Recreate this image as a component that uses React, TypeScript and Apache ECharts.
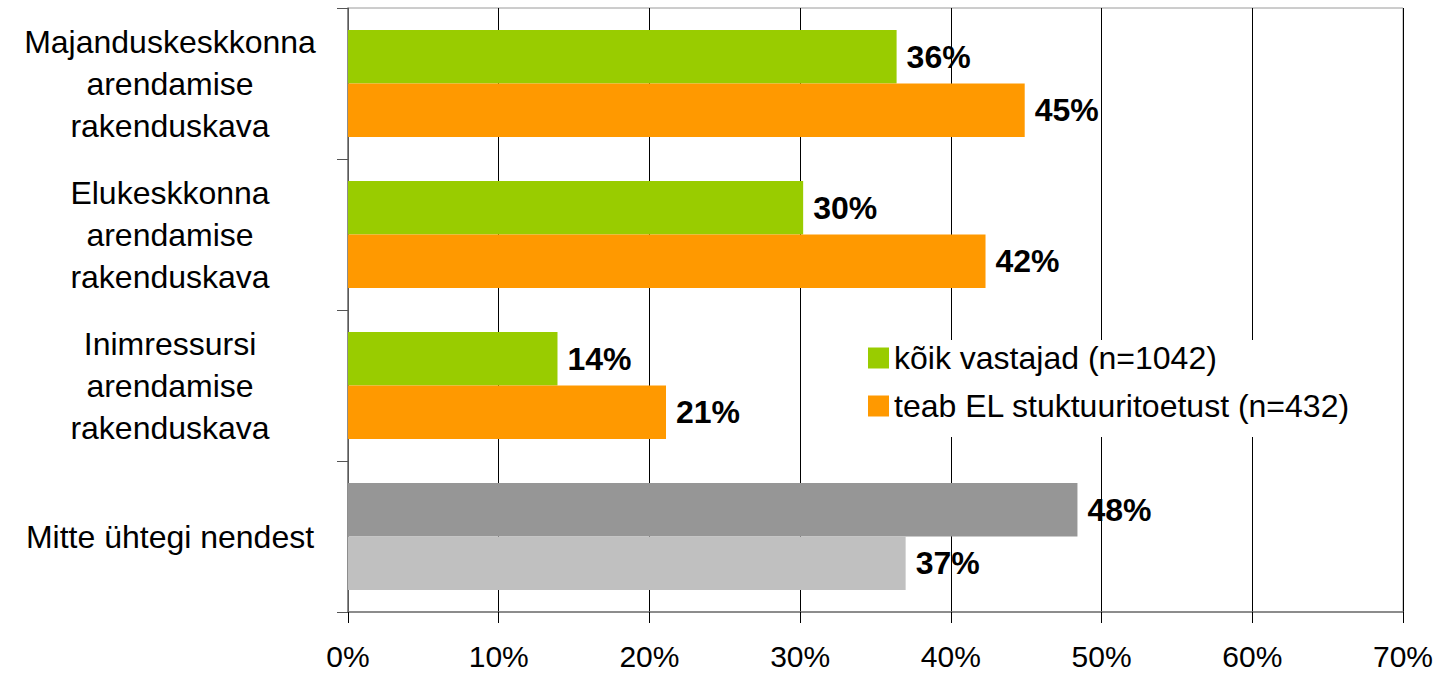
import React, { useEffect, useRef } from "react";
import * as echarts from "echarts";

const categories = [
  "Majanduskeskkonna\narendamise\nrakenduskava",
  "Elukeskkonna\narendamise\nrakenduskava",
  "Inimressursi\narendamise\nrakenduskava",
  "Mitte ühtegi nendest",
];
const seriesNames = ["kõik vastajad (n=1042)", "teab EL stuktuuritoetust (n=432)"];
const allRespondents = [36.4, 30.2, 13.9, 48.4];
const awareRespondents = [44.9, 42.3, 21.1, 37.0];
const xTicks = [0, 10, 20, 30, 40, 50, 60, 70];

const GREEN = "#99CC00";
const ORANGE = "#FF9900";
const DARK_GRAY = "#969696";
const LIGHT_GRAY = "#C0C0C0";
const FONT = "'Liberation Sans', Arial, Helvetica, sans-serif";

export default function App() {
  const ref = useRef<HTMLDivElement>(null);
  useEffect(() => {
    if (!ref.current) return;
    const chart = echarts.init(ref.current, undefined, { renderer: "svg" });
    const last = categories.length - 1;
    const label = {
      show: true,
      position: "right",
      distance: 10,
      color: "#000",
      fontSize: 32,
      fontWeight: "bold",
      fontFamily: FONT,
      formatter: (p: any) => Math.round(p.value) + "%",
    };
    chart.setOption({
      animation: false,
      backgroundColor: "#fff",
      textStyle: { fontFamily: FONT },
      grid: {
        left: 348,
        right: 49,
        top: 8,
        bottom: 62,
        show: true,
        borderColor: "#9a9a9a",
        borderWidth: 1,
      },
      legend: {
        orient: "vertical",
        left: 862,
        top: 340,
        padding: [2, 20, 15, 6],
        backgroundColor: "#fff",
        itemWidth: 21,
        itemHeight: 21,
        itemGap: 16,
        icon: "rect",
        data: seriesNames,
        textStyle: { fontSize: 32, color: "#000", fontFamily: FONT },
      },
      xAxis: {
        type: "value",
        min: xTicks[0],
        max: xTicks[xTicks.length - 1],
        interval: 10,
        axisLine: { show: true, lineStyle: { color: "#777", width: 1.5 } },
        axisTick: { show: true, length: 11, lineStyle: { color: "#000" } },
        splitLine: { show: true, lineStyle: { color: "#000", width: 1 } },
        axisLabel: {
          fontSize: 30,
          lineHeight: 26,
          color: "#000",
          fontFamily: FONT,
          margin: 31,
          formatter: (v: number) => v + "%",
        },
      },
      yAxis: {
        type: "category",
        inverse: true,
        data: categories,
        axisLine: { show: true, lineStyle: { color: "#777", width: 1.5 } },
        axisTick: { show: true, length: 11, lineStyle: { color: "#555" } },
        axisLabel: {
          fontSize: 32,
          color: "#000",
          fontFamily: FONT,
          align: "center",
          margin: 178,
          lineHeight: 42,
        },
      },
      series: [
        {
          name: seriesNames[0],
          type: "bar",
          itemStyle: { color: GREEN },
          barCategoryGap: "29%",
          barGap: "0%",
          label,
          data: allRespondents.map((v, i) =>
            i === last ? { value: v, itemStyle: { color: DARK_GRAY } } : v
          ),
        },
        {
          name: seriesNames[1],
          type: "bar",
          itemStyle: { color: ORANGE },
          barCategoryGap: "29%",
          barGap: "0%",
          label,
          data: awareRespondents.map((v, i) =>
            i === last ? { value: v, itemStyle: { color: LIGHT_GRAY } } : v
          ),
        },
      ],
    });
    return () => chart.dispose();
  }, []);
  return (
    <div
      ref={ref}
      style={{ position: "absolute", left: 0, top: 0, width: 1452, height: 674 }}
    />
  );
}
